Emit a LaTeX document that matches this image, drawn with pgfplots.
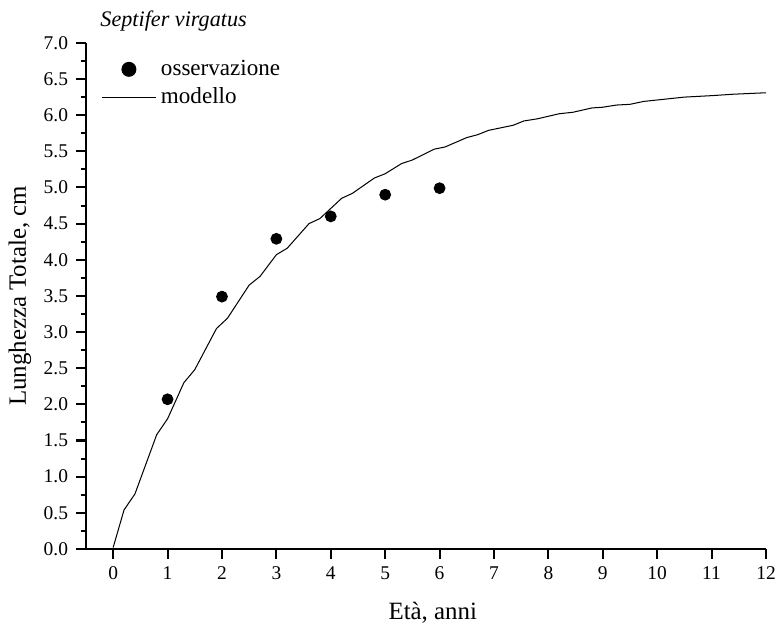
\documentclass[border=0pt]{standalone}
\usepackage{pgfplots}
\pgfplotsset{compat=1.18}
\usepackage{fontspec}
\setmainfont{Liberation Serif}
\begin{document}
\begin{tikzpicture}
\useasboundingbox (-38.0pt,-33.6pt) rectangle (305.9pt,242.65pt);
\begin{axis}[
  scale only axis,
  width=300.6pt, height=223.7pt,
  xmin=-0.5, xmax=12, ymin=0, ymax=7,
  axis x line=bottom, axis y line=left,
  axis line style={-, line width=0.9pt},
  every tick/.style={black, line width=0.9pt},
  tick align=outside,
  major tick length=4.4pt, minor tick length=2.4pt,
  xtick={0,1,...,12},
  ytick={0,0.5,...,7},
  minor ytick={0.25,0.75,...,6.75},
  yticklabel style={/pgf/number format/.cd, fixed, fixed zerofill, precision=1},
  /pgf/number format/assume math mode=true,
  tick label style={font=\fontsize{8.6}{10}\selectfont},
  xlabel={Età, anni},
  ylabel={Lunghezza Totale, cm},
  label style={font=\fontsize{11}{13}\selectfont},
  xlabel style={at={(axis description cs:0.51,-0.126)}, anchor=center},
  ylabel style={at={(axis description cs:-0.097,0.5)}, anchor=center, rotate=0},
  every axis title shift=0pt,
  title={Septifer virgatus},
  title style={at={(axis description cs:0.0206,1.0316)}, anchor=base west, inner sep=0pt, font=\itshape\fontsize{9.8}{12}\selectfont},
  legend style={at={(axis description cs:0.022,0.976)}, anchor=north west, draw=none, fill=none, inner sep=0pt, font=\fontsize{10.2}{12}\selectfont, row sep=0pt, cells={anchor=west}},
  clip=false,
]
\addlegendimage{legend image code/.code={\fill[black] (11.95pt,0pt) circle (3.1pt);}}
\addlegendentry{osservazione}
\addlegendimage{legend image code/.code={\draw[black, line width=0.45pt] (0pt,0pt) -- (23.9pt,0pt);}}
\addlegendentry{modello}
\addplot[forget plot, only marks, mark=*, mark size=2.4pt, black] coordinates {
(1,2.07) (2,3.49) (3,4.29) (4,4.60) (5,4.90) (6,4.99)
};
\addplot[forget plot, black, line width=0.45pt] coordinates {
(0,0.02) (0.2,0.54) (0.4,0.76) (0.8,1.58) (1.0,1.80) (1.3,2.30) (1.5,2.48)
(1.9,3.05) (2.1,3.19) (2.5,3.65) (2.7,3.77) (3.0,4.07) (3.2,4.16) (3.6,4.50)
(3.8,4.57) (4.2,4.85) (4.4,4.92) (4.8,5.13) (5.0,5.19) (5.3,5.33) (5.5,5.38)
(5.9,5.53) (6.1,5.56) (6.5,5.69) (6.7,5.73) (6.9,5.79) (7.35,5.86) (7.55,5.92)
(7.8,5.95) (8.2,6.02) (8.45,6.04) (8.8,6.10) (9.0,6.11) (9.25,6.14) (9.5,6.15)
(9.75,6.19) (10.0,6.21) (10.5,6.25) (11.0,6.27) (11.4,6.29) (12,6.31)
};
\end{axis}
\end{tikzpicture}
\end{document}
